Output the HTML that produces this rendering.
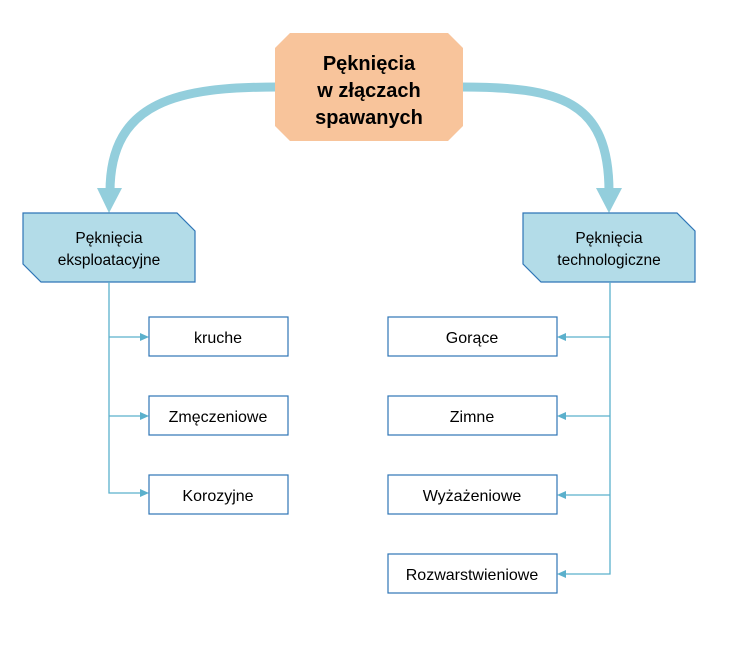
<!DOCTYPE html>
<html><head><meta charset="utf-8"><style>
body{margin:0;background:#fff;}
svg text{font-family:"Liberation Sans",sans-serif;fill:#000;}
</style></head><body>
<svg width="744" height="641" viewBox="0 0 744 641" xmlns="http://www.w3.org/2000/svg">
<path d="M278,87 C180,87 110,100 110,192" fill="none" stroke="#93cedc" stroke-width="9" stroke-linecap="round"/>
<polygon points="97,188 122,188 109,213" fill="#93cedc"/>
<path d="M460,87 C560,87 609,100 609,192" fill="none" stroke="#93cedc" stroke-width="9" stroke-linecap="round"/>
<polygon points="596,188 622,188 609,213" fill="#93cedc"/>
<polygon points="290,33 448,33 463,48 463,126 448,141 290,141 275,126 275,48" fill="#f8c49b"/>
<text x="369" y="70" font-size="20" font-weight="bold" text-anchor="middle">Pęknięcia</text>
<text x="369" y="97" font-size="20" font-weight="bold" text-anchor="middle">w złączach</text>
<text x="369" y="124" font-size="20" font-weight="bold" text-anchor="middle">spawanych</text>
<polygon points="23,213 177,213 195,231 195,282 41,282 23,264" fill="#b3dce8" stroke="#2e75b6" stroke-width="1.2"/>
<text x="109" y="243" font-size="15.5" text-anchor="middle">Pęknięcia</text>
<text x="109" y="265" font-size="15.5" text-anchor="middle">eksploatacyjne</text>
<polygon points="523,213 677,213 695,231 695,282 541,282 523,264" fill="#b3dce8" stroke="#2e75b6" stroke-width="1.2"/>
<text x="609" y="243" font-size="15.5" text-anchor="middle">Pęknięcia</text>
<text x="609" y="265" font-size="15.5" text-anchor="middle">technologiczne</text>
<g stroke="#5bb0cc" stroke-width="1.3" fill="none">
<path d="M109,282 V493 H140"/><path d="M109,337 H140"/><path d="M109,416 H140"/>
<path d="M610,282 V574 H566"/><path d="M610,337 H566"/><path d="M610,416 H566"/><path d="M610,495 H566"/>
</g>
<g fill="#5bb0cc">
<polygon points="140,333 149,337 140,341"/><polygon points="140,412 149,416 140,420"/><polygon points="140,489 149,493 140,497"/>
<polygon points="566,333 557,337 566,341"/><polygon points="566,412 557,416 566,420"/><polygon points="566,491 557,495 566,499"/><polygon points="566,570 557,574 566,578"/>
</g>
<g fill="#fff" stroke="#2e75b6" stroke-width="1.2">
<rect x="149" y="317" width="139" height="39"/><rect x="149" y="396" width="139" height="39"/><rect x="149" y="475" width="139" height="39"/>
<rect x="388" y="317" width="169" height="39"/><rect x="388" y="396" width="169" height="39"/><rect x="388" y="475" width="169" height="39"/><rect x="388" y="554" width="169" height="39"/>
</g>
<g font-size="16" text-anchor="middle">
<text x="218" y="343">kruche</text>
<text x="218" y="422">Zmęczeniowe</text>
<text x="218" y="501">Korozyjne</text>
<text x="472" y="343">Gorące</text>
<text x="472" y="422">Zimne</text>
<text x="472" y="501">Wyżażeniowe</text>
<text x="472" y="580">Rozwarstwieniowe</text>
</g>
</svg>
</body></html>
